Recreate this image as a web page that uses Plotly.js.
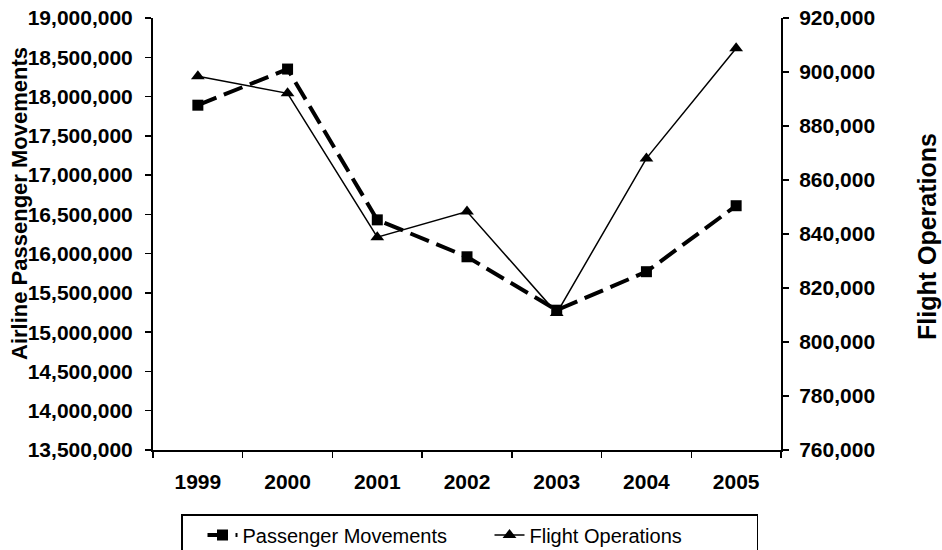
<!DOCTYPE html>
<html>
<head>
<meta charset="utf-8">
<script src="https://cdn.plot.ly/plotly-3.0.1.min.js"></script>
<style>html,body{margin:0;padding:0;background:#fff;}#chart{width:942px;height:550px;}</style>
</head>
<body>
<div id="chart"></div>
<script>
const years = ["1999", "2000", "2001", "2002", "2003", "2004", "2005"];
const passengerMovements = [17890000, 18350000, 16430000, 15960000, 15280000, 15770000, 16610000];
const flightOperations = [898400, 892100, 838800, 848300, 810700, 868000, 908800];
const passengerTicks = [13500000, 14000000, 14500000, 15000000, 15500000, 16000000, 16500000, 17000000, 17500000, 18000000, 18500000, 19000000];
const flightTicks = [760000, 780000, 800000, 820000, 840000, 860000, 880000, 900000, 920000];

const FONT = '"Liberation Sans", Arial, sans-serif';
const fmt = v => v.toLocaleString('en-US');

const traces = [
  {
    name: 'Passenger Movements', x: years, y: passengerMovements,
    xaxis: 'x', yaxis: 'y2', type: 'scatter', mode: 'lines+markers',
    line: {color: '#000', width: 4, dash: '20px,8px'},
    marker: {symbol: 'square', size: 11, color: '#000'}
  },
  {
    name: 'Flight Operations', x: years, y: flightOperations,
    xaxis: 'x', yaxis: 'y', type: 'scatter', mode: 'lines+markers',
    line: {color: '#000', width: 1.5},
    marker: {symbol: 'triangle-up', size: 12, color: '#000'}
  }
];
traces.reverse();

const n = years.length;
const boundaries = [];
for (let i = 0; i <= n; i++) boundaries.push(i - 0.5);

const tickFont = {family: FONT, size: 21, color: '#000', weight: 'bold'};

const layout = {
  width: 942, height: 550,
  margin: {l: 153, r: 161, t: 18, b: 100},
  paper_bgcolor: '#fff', plot_bgcolor: '#fff',
  font: {family: FONT, color: '#000'},
  showlegend: true,
  xaxis: {
    type: 'category', range: [-0.5, n - 0.5], tickson: 'boundaries',
    ticks: 'outside', ticklen: 6, tickwidth: 1.5, tickcolor: '#000',
    showline: true, linecolor: '#000', linewidth: 2, showgrid: false, zeroline: false,
    tickfont: tickFont, ticklabelstandoff: 12, fixedrange: true, automargin: false
  },
  xaxis2: {
    overlaying: 'x', anchor: 'y', type: 'linear', range: [-0.5, n - 0.5],
    tickmode: 'array', tickvals: boundaries, showticklabels: false,
    ticks: 'inside', ticklen: 6, tickwidth: 1.5, tickcolor: '#000',
    showline: false, showgrid: false, zeroline: false
  },
  yaxis: {
    side: 'right', range: [flightTicks[0], flightTicks[flightTicks.length - 1]],
    tickmode: 'array', tickvals: flightTicks, ticktext: flightTicks.map(fmt),
    ticks: 'outside', ticklen: 6, tickwidth: 1.5, tickcolor: '#000',
    showline: true, linecolor: '#000', linewidth: 2, showgrid: false, zeroline: false,
    tickfont: tickFont, ticklabelstandoff: 6, automargin: false
  },
  yaxis2: {
    side: 'left', overlaying: 'y', anchor: 'x',
    range: [passengerTicks[0], passengerTicks[passengerTicks.length - 1]],
    tickmode: 'array', tickvals: passengerTicks, ticktext: passengerTicks.map(fmt),
    ticks: 'outside', ticklen: 6, tickwidth: 1.5, tickcolor: '#000',
    showline: true, linecolor: '#000', linewidth: 2, showgrid: false, zeroline: false,
    tickfont: tickFont, ticklabelstandoff: 8, automargin: false
  },
  yaxis3: {
    side: 'left', overlaying: 'y', anchor: 'x',
    range: [passengerTicks[0], passengerTicks[passengerTicks.length - 1]],
    tickmode: 'array', tickvals: passengerTicks, showticklabels: false,
    ticks: 'inside', ticklen: 5, tickwidth: 1.5, tickcolor: '#000',
    showline: false, showgrid: false, zeroline: false
  },
  yaxis4: {
    side: 'right', overlaying: 'y', anchor: 'x',
    range: [flightTicks[0], flightTicks[flightTicks.length - 1]],
    tickmode: 'array', tickvals: flightTicks, showticklabels: false,
    ticks: 'inside', ticklen: 6, tickwidth: 1.5, tickcolor: '#000',
    showline: false, showgrid: false, zeroline: false
  },
  legend: {
    orientation: 'h', xref: 'container', yref: 'container',
    x: 181 / 942, xanchor: 'left', y: (550 - 514) / 550, yanchor: 'top',
    bordercolor: '#000', borderwidth: 1.5, bgcolor: '#fff',
    font: {family: FONT, size: 20, color: '#000'},
    entrywidth: 222, indentation: 20, traceorder: 'reversed', itemclick: false
  },
  annotations: [
    {
      text: 'Airline Passenger Movements', textangle: -90,
      xref: 'paper', yref: 'paper', x: -0.2118, y: 0.5718,
      xanchor: 'center', yanchor: 'middle', showarrow: false,
      font: {family: FONT, size: 22, color: '#000', weight: 'bold'}
    },
    {
      text: 'Flight Operations', textangle: -90,
      xref: 'paper', yref: 'paper', x: 1.2325, y: 0.493,
      xanchor: 'center', yanchor: 'middle', showarrow: false,
      font: {family: FONT, size: 25, color: '#000', weight: 'bold'}
    }
  ]
};

Plotly.newPlot('chart', traces, layout, {displayModeBar: false, staticPlot: true});
</script>
</body>
</html>
